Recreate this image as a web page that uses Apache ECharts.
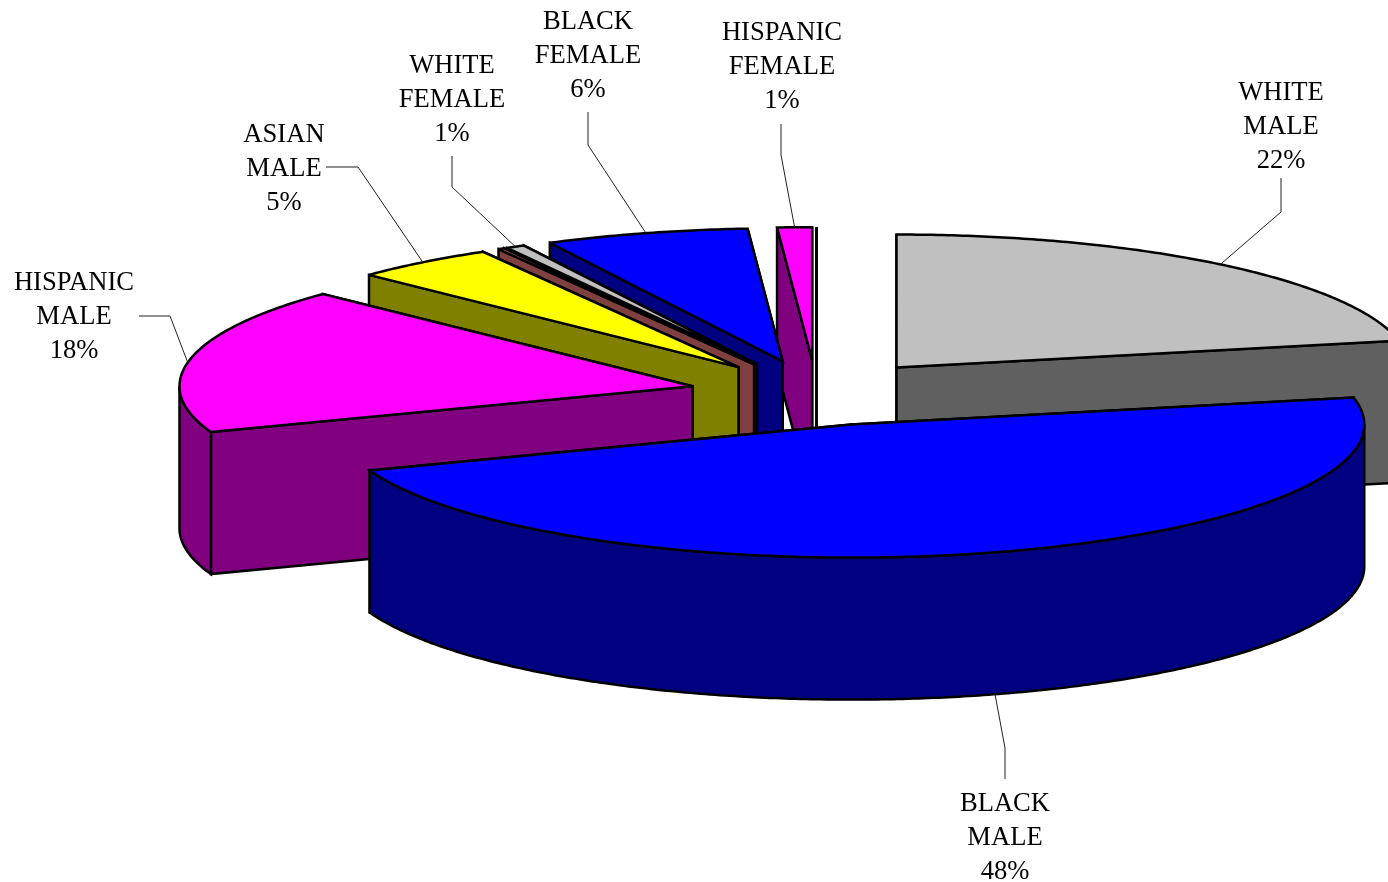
<!DOCTYPE html>
<html>
<head>
<meta charset="utf-8">
<style>html,body{margin:0;padding:0;background:#fff;overflow:hidden}#chart{width:1388px;height:882px}</style>
<script src="https://cdn.jsdelivr.net/npm/echarts@6/dist/echarts.min.js"></script>
</head>
<body>
<div id="chart"></div>
<script>
// ---- data (clockwise from 12 o'clock) ----
const categories = ['WHITE MALE','BLACK MALE','HISPANIC MALE','ASIAN MALE','','WHITE FEMALE','BLACK FEMALE','HISPANIC FEMALE',''];
const shares     = [21.75, 47.65, 17.8, 4.5, 0.2, 0.6, 6.41, 1.09, 0];

// ---- styles ----
const topColors  = ['#C0C0C0','#0000FF','#FF00FF','#FFFF00','#FF8080','#C0C0C0','#0000FF','#FF00FF','#FFFFFF'];
const wallColors = ['#606060','#000080','#800080','#808000','#804040','#202020','#000080','#800080','#000000'];

// ---- layout ----
const pie = {cx: 816.5, cy: 393, rx: 513, ry: 133, depth: 142, explode: 0.247, stroke: 2.5};
// label centre, leader elbow/end and where along the slice's rim the leader attaches
const labelLayout = [
  {x:1281, y:127, elbow:[1281,212], end:[1281,178], along:0.5},
  {x:1005, y:838, elbow:[1005,748], end:[1005,779], along:0.498},
  {x:74,   y:317, elbow:[170,316],  end:[139,316],  along:0.475},
  {x:284,  y:169, elbow:[358,167],  end:[326,167],  along:0.5},
  null,
  {x:452,  y:100, elbow:[452,187],  end:[452,156],  along:0.5},
  {x:588,  y:56,  elbow:[588,145],  end:[588,112],  along:0.5},
  {x:782,  y:67,  elbow:[781,155],  end:[781,124],  along:0.5},
  null
];

const total = shares.reduce((a, b) => a + b, 0);
const starts = [];
shares.reduce((acc, v, i) => { starts[i] = acc; return acc + v; }, 0);
const deg = v => v / total * 2 * Math.PI;

function sliceGeom(i) {
  const a0 = deg(starts[i]), a1 = deg(starts[i] + shares[i]), mid = (a0 + a1) / 2;
  const ax = pie.cx + pie.explode * pie.rx * Math.sin(mid);
  const ay = pie.cy - pie.explode * pie.ry * Math.cos(mid);
  const at = (t, dz) => [ax + pie.rx * Math.sin(t), ay - pie.ry * Math.cos(t) + (dz || 0)];
  return {a0, a1, mid, ax, ay, at};
}
function arcPts(g, t0, t1, dz) {
  const pts = [], n = Math.max(2, Math.ceil(Math.abs(t1 - t0) / 0.01));
  for (let k = 0; k <= n; k++) pts.push(g.at(t0 + (t1 - t0) * k / n, dz));
  return pts;
}
const strokeStyle = fill => ({fill, stroke:'#000', lineWidth:pie.stroke, lineJoin:'miter', miterLimit:3});

function renderSlice(params, api) {
  const i = api.value(1);
  const g = sliceGeom(i), children = [];
  const poly = (points, fill) => children.push({type:'polygon', shape:{points}, style:strokeStyle(fill)});
  const wall = t => {
    const p = g.at(t), q = g.at(t, pie.depth);
    poly([[g.ax, g.ay], p, q, [g.ax, g.ay + pie.depth]], wallColors[i]);
  };
  // radial walls: the one whose rim sits further back goes first
  const walls = [g.a0, g.a1].sort((s, t) => Math.cos(t) - Math.cos(s));
  walls.forEach(wall);
  // rim wall on the front half of the ellipse
  const lo = Math.max(g.a0, Math.PI / 2), hi = Math.min(g.a1, Math.PI * 1.5);
  if (hi > lo) {
    poly(arcPts(g, lo, hi, 0).concat(arcPts(g, hi, lo, pie.depth)), wallColors[i]);
  }
  // top face
  poly([[g.ax, g.ay]].concat(arcPts(g, g.a0, g.a1, 0)), topColors[i]);
  return {type:'group', children};
}

function renderLabel(params, api) {
  const i = api.value(1), l = labelLayout[i];
  const g = sliceGeom(i);
  const t = g.a0 + (g.a1 - g.a0) * l.along;
  const front = Math.cos(t) < 0 && Math.abs(Math.sin(t)) < 0.95;
  const anchor = g.at(t, front ? pie.depth : 0);
  const words = categories[i].split(' ');
  return {type:'group', children:[
    {type:'polyline', shape:{points:[anchor, l.elbow, l.end]},
     style:{fill:'none', stroke:'#222', lineWidth:1}},
    {type:'text', x:l.x, y:l.y, style:{
      text: words.concat(Math.round(api.value(0)) + '%').join('\n'),
      font:'26.6px "Liberation Serif","Times New Roman",serif', lineHeight:34,
      fill:'#000', textAlign:'center', textVerticalAlign:'middle'}}
  ]};
}

// painter's order: slices whose centre lies furthest back are drawn first
const drawOrder = shares.map((v, i) => i)
  .sort((p, q) => Math.cos(sliceGeom(q).mid) - Math.cos(sliceGeom(p).mid));

const chart = echarts.init(document.getElementById('chart'));
chart.setOption({
  animation:false,
  backgroundColor:'#fff',
  series:[
    {type:'custom', coordinateSystem:'none', renderItem:renderSlice, silent:true, z:2,
     data:drawOrder.map(i => ({name:categories[i], value:[shares[i], i]}))},
    {type:'custom', coordinateSystem:'none', renderItem:renderLabel, silent:true, z:3,
     data:shares.map((v, i) => ({name:categories[i], value:[v, i]})).filter(d => labelLayout[d.value[1]])}
  ]
});
</script>
</body>
</html>
